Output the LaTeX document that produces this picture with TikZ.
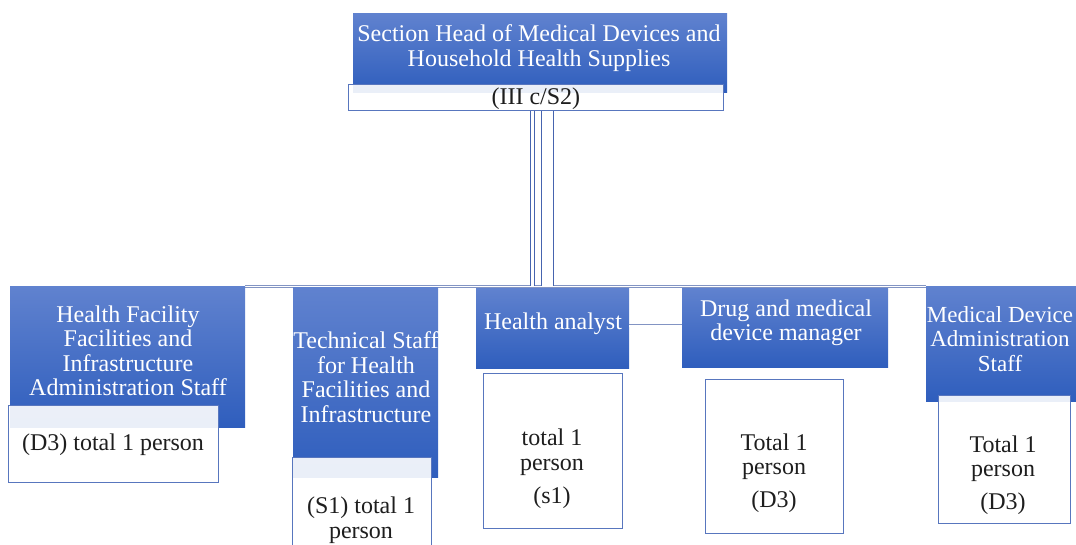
\documentclass[tikz,border=0pt]{standalone}
\usepackage{fontspec}
\setmainfont{Liberation Serif}
\newcommand\boxfont{\fontsize{24}{24.5}\selectfont}
\newcommand\edgefont{\fontsize{23}{24.5}\selectfont}
\definecolor{bluetop}{RGB}{96,130,207}
\definecolor{bluebot}{RGB}{47,94,189}
\definecolor{boxline}{RGB}{88,118,190}
\definecolor{pipecol}{RGB}{70,100,175}
\definecolor{buscol}{RGB}{130,148,195}
\definecolor{textdark}{RGB}{30,30,30}
\tikzset{
  bluebox/.style={rectangle, inner sep=0pt, draw=none, top color=bluetop, bottom color=bluebot, anchor=north west},
  whitebox/.style={rectangle, inner sep=0pt, draw=boxline, line width=0.8pt, fill=white, fill opacity=0.9, anchor=north west},
  headtext/.style={text=white, font=\boxfont, align=center, inner sep=0pt},
  bodytext/.style={text=textdark, font=\boxfont, align=center, inner sep=0pt},
  pipe/.style={draw=pipecol, line width=0.6pt, double=white},
  bus/.style={draw=buscol, line width=0.6pt, double=white, double distance=1.8pt},
}
\begin{document}
\begin{tikzpicture}[x=1pt,y=-1pt]
\useasboundingbox (0,0) rectangle (1076,545);
\clip (0,0) rectangle (1076,545);

% horizontal bus joining the five posts
\coordinate (busL) at (245,286.5);
\coordinate (busR) at (926,286.5);
\draw[bus] (busL) -- (busR);

% section head
\node[bluebox, minimum width=374pt, minimum height=79pt] (head) at (353,13) {};
\node[headtext] (headt) at (539,48) {Section Head of Medical Devices and\\Household Health Supplies};
\node[whitebox, minimum width=375pt, minimum height=26pt] (rank) at (348,84) {};
\node[bodytext] (rankt) at ([yshift=-1pt]rank.center) {(III c/S2)};

% posts
\node[bluebox, minimum width=235pt, minimum height=141pt] (b1) at (10,286) {};
\node[headtext] (b1t) at (128,351) {Health Facility\\Facilities and\\Infrastructure\\Administration Staff};
\node[whitebox, minimum width=210pt, minimum height=77pt] (w1) at (8,405) {};
\node[bodytext] (w1t) at (113,445) {(D3) total 1 person};

\node[bluebox, minimum width=145pt, minimum height=190pt] (b2) at (293,287) {};
\node[headtext] (b2t) at (366,377) {Technical Staff\\for Health\\Facilities and\\Infrastructure};
\node[whitebox, minimum width=139pt, minimum height=100pt] (w2) at (292,457) {};
\node[bodytext] (w2t) at (361,520) {(S1) total 1\\person};

\node[bluebox, minimum width=153pt, minimum height=80pt] (b3) at (476,288) {};
\node[headtext] (b3t) at (553,324) {Health analyst};
\node[whitebox, minimum width=139pt, minimum height=155pt] (w3) at (483,373) {};
\node[bodytext] (w3t) at (552,469) {total 1\\person\\[9pt](s1)};

\node[bluebox, minimum width=206pt, minimum height=79pt] (b4) at (682,288) {};
\node[headtext] (b4t) at (786,323) {Drug and medical\\device manager};
\node[whitebox, minimum width=138pt, minimum height=154pt] (w4) at (705,379) {};
\node[bodytext] (w4t) at (774,473) {Total 1\\person\\[8pt](D3)};

\node[bluebox, minimum width=160pt, minimum height=115pt] (b5) at (926,286) {};
\node[headtext, font=\edgefont] (b5t) at (1000,339) {Medical Device\\Administration\\Staff};
\node[whitebox, minimum width=132pt, minimum height=128pt] (w5) at (938,395) {};
\node[bodytext] (w5t) at (1003,475) {Total 1\\person\\[8pt](D3)};

% links from the section head down to the bus
\draw[pipe, double distance=3pt] ([xshift=-3.5pt]rank.south) -- ([xshift=-3.5pt]rank.south |- busL);
\draw[pipe, double distance=11pt] ([xshift=11.5pt]rank.south) -- ([xshift=11.5pt]rank.south |- busL);

% side link between health analyst and manager
\draw[bus, double distance=2pt] ([yshift=2.5pt]b3.east) -- ([yshift=2.5pt]b3.east -| b4.west);
\end{tikzpicture}
\end{document}
